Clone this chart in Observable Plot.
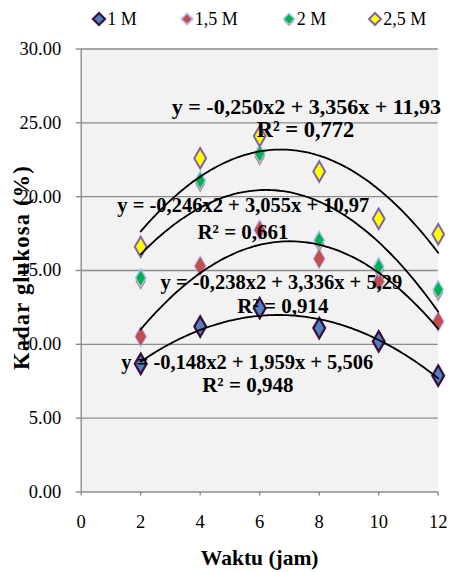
<!DOCTYPE html>
<html><head><meta charset="utf-8">
<script src="https://cdn.jsdelivr.net/npm/d3@7"></script>
<script src="https://cdn.jsdelivr.net/npm/@observablehq/plot@0.6"></script>
<style>
body{margin:0;background:#fff;font-family:"Liberation Serif",serif;}
#wrap{position:relative;width:449px;height:572px;overflow:hidden;}
#legend{position:absolute;left:0;top:0;width:449px;height:40px;}
#chart{position:absolute;left:0;top:40px;}
.li{position:absolute;top:9px;font-size:18px;display:flex;align-items:center;line-height:20px;white-space:nowrap;color:#000;}
</style></head><body>
<div id="wrap"><div id="legend"></div><div id="chart"></div></div>
<script>
// ---- data ----
const waktu = [2, 4, 6, 8, 10, 12];
const seriesNames = ["1 M", "1,5 M", "2 M", "2,5 M"];
const glukosa1M  = [8.68, 11.2, 12.45, 11.1, 10.2, 7.88];
const glukosa15M = [10.53, 15.3, 17.75, 15.8, 14.25, 11.55];
const glukosa2M  = [14.5, 21.1, 22.9, 17.05, 15.25, 13.7];
const glukosa25M = [16.6, 22.6, 24.1, 21.7, 18.5, 17.45];
// polynomial trendline coefficients as printed (a x^2 + b x + c)
const trendA = [-0.148, -0.238, -0.246, -0.250];
const trendB = [1.959, 3.336, 3.055, 3.356];
const trendC = [5.506, 5.29, 10.97, 11.93];
const eqLabels = ["y = -0,148x2 + 1,959x + 5,506", "y = -0,238x2 + 3,336x + 5,29",
                  "y = -0,246x2 + 3,055x + 10,97", "y = -0,250x2 + 3,356x + 11,93"];
const r2Labels = ["R² = 0,948", "R² = 0,914", "R² = 0,661", "R² = 0,772"];
const xTicks = [0, 2, 4, 6, 8, 10, 12];
const yTicks = [0, 5, 10, 15, 20, 25, 30];
const xTitle = "Waktu (jam)";
const yTitle = "Kadar glukosa (%)";

// ---- layout / style (not data) ----
const eqAnchorX = [5.58, 6.73, 5.45, 7.57];
const eqAnchorY = [8.79, 14.2, 19.4, 26.1];
const eqSize = [20.5, 20.5, 20.5, 22];
const r2AnchorX = [5.6, 6.78, 5.44, 7.54];
const r2AnchorY = [7.21, 12.56, 17.59, 24.51];
const r2Size = [21, 21, 21, 22.5];

const allSeries = [glukosa1M, glukosa15M, glukosa2M, glukosa25M];
const pts = allSeries.map((vals, s) => waktu.map((x, i) => ({x, y: vals[i], s: seriesNames[s]})));
const curves = seriesNames.map((name, s) =>
  d3.range(2, 12.001, 0.1).map(x => ({x, y: trendA[s]*x*x + trendB[s]*x + trendC[s], s: name})));
const labels = seriesNames.map((n, s) => ({x: eqAnchorX[s], y: eqAnchorY[s], t: eqLabels[s], fs: eqSize[s]}))
  .concat(seriesNames.map((n, s) => ({x: r2AnchorX[s], y: r2AnchorY[s], t: r2Labels[s], fs: r2Size[s]})));

const R = 6.2;
const gray = "#8c8c8c";
const FF = "Liberation Serif";
const plot = Plot.plot({
  width: 449, height: 532,
  marginLeft: 80.7, marginRight: 11.3, marginTop: 8.5, marginBottom: 80.5,
  style: "font-family: 'Liberation Serif', serif; font-size: 15px; background: transparent; color: #000; overflow: visible;",
  x: {domain: [0, 12]},
  y: {domain: [0, 30]},
  marks: [
    Plot.frame({fill: "#f2f2f2", stroke: null}),
    Plot.ruleY(yTicks.slice(1), {stroke: gray, strokeWidth: 1.4}),
    Plot.ruleX([0], {stroke: gray, strokeWidth: 1.4}),
    Plot.ruleY([0], {stroke: gray, strokeWidth: 1.4}),
    Plot.axisY({ticks: yTicks, tickSize: 5, tickPadding: 15, tickFormat: d => d.toFixed(2), stroke: gray, strokeWidth: 1.4, label: null, fontSize: 18.5}),
    Plot.axisX({ticks: xTicks, tickSize: 4, tickPadding: 19, tickFormat: d => String(d), stroke: gray, strokeWidth: 1.4, label: null, fontSize: 18.5}),
    // 1 M
    Plot.dot(pts[0], {x: "x", y: "y", symbol: "diamond", r: R, fill: "#4f81bd", stroke: "#3a0d3e", strokeWidth: 2.2}),
    // 1,5 M
    Plot.dot(pts[1], {x: "x", y: "y", symbol: "diamond", r: R + 0.6, fill: "#b3adff", stroke: "none", fillOpacity: 0.8}),
    Plot.dot(pts[1], {x: "x", y: "y", symbol: "diamond", r: R - 0.6, fill: "#c0504d", stroke: "none"}),
    // 2 M
    Plot.dot(pts[2], {x: "x", y: "y", symbol: "diamond", r: R - 0.8, dy: 3, fill: "#c0504d", fillOpacity: 0.85, stroke: "none"}),
    Plot.dot(pts[2], {x: "x", y: "y", symbol: "diamond", r: R - 0.8, fill: "#00b050", stroke: "#9dc3e6", strokeWidth: 1.6, strokeOpacity: 0.9}),
    // 2,5 M
    Plot.dot(pts[3], {x: "x", y: "y", symbol: "diamond", r: R, fill: "#ffff00", stroke: "#8064a2", strokeWidth: 2}),
    // trendlines
    ...curves.map(c => Plot.line(c, {x: "x", y: "y", stroke: "#000", strokeWidth: 1.8, curve: "basis"})),
    // equations
    Plot.text(labels, {x: "x", y: "y", text: "t", fontWeight: "bold", fontSize: "fs", fill: "#000", textAnchor: "middle", lineAnchor: "middle"}),
    // axis titles
    Plot.text([xTitle], {frameAnchor: "bottom", dy: 66.5, lineAnchor: "middle", fontWeight: "bold", fontSize: 21.5, fill: "#000"}),
    Plot.text([yTitle], {frameAnchor: "left", dx: -59, dy: -3, rotate: -90, lineAnchor: "middle", textAnchor: "middle", fontWeight: "bold", fontSize: 22.5, fill: "#000"})
  ]
});
d3.select(plot).attr("font-family", FF);
d3.select(plot).selectAll("text, g").attr("font-family", FF).style("font-family", "'Liberation Serif', serif");
d3.select(plot).selectAll("text").filter(function() { return this.textContent === yTitle; }).style("letter-spacing", "1.2px");
document.getElementById("chart").appendChild(plot);

// ---- legend ----
const legendCx = [99.3, 186.7, 288.8, 375.3];
const markerSvg = [
  `<svg width="16" height="16" viewBox="-8 -8 16 16"><path d="M0,-6L6,0L0,6L-6,0Z" fill="#4f81bd" stroke="#3a0d3e" stroke-width="2.2"/></svg>`,
  `<svg width="16" height="16" viewBox="-8 -8 16 16"><path d="M0,-7L7,0L0,7L-7,0Z" fill="#b3adff" opacity="0.85"/><path d="M0,-4.5L4.5,0L0,4.5L-4.5,0Z" fill="#c0504d"/></svg>`,
  `<svg width="16" height="16" viewBox="-8 -8 16 16"><path d="M0,-3L5,2L0,7L-5,2Z" fill="#c0504d"/><path d="M0,-5.5L5.5,0L0,5.5L-5.5,0Z" fill="#00b050" stroke="#9dc3e6" stroke-width="1.5"/></svg>`,
  `<svg width="16" height="16" viewBox="-8 -8 16 16"><path d="M0,-6L6,0L0,6L-6,0Z" fill="#ffff00" stroke="#8064a2" stroke-width="2"/></svg>`
];
const leg = document.getElementById("legend");
seriesNames.forEach((n, i) => {
  const d = document.createElement("div");
  d.className = "li";
  d.style.left = (legendCx[i] - 8) + "px";
  d.innerHTML = markerSvg[i] + "<span>" + n + "</span>";
  leg.appendChild(d);
});
</script>
</body></html>
